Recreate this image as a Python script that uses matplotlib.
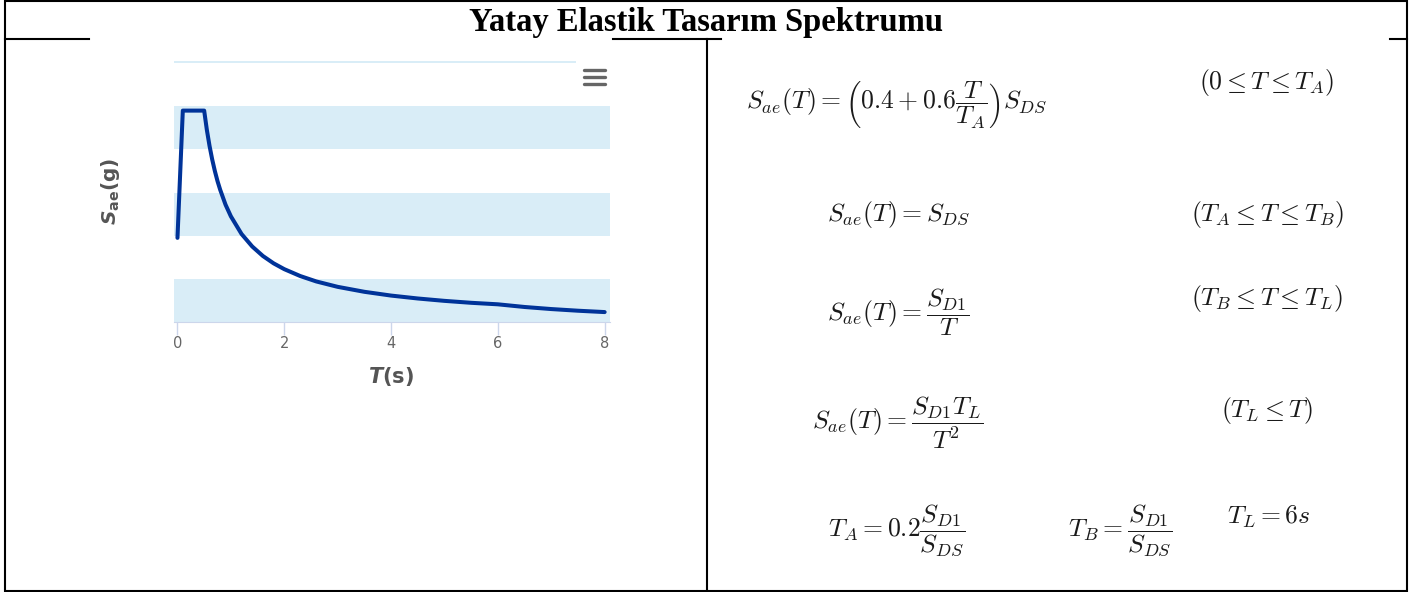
import matplotlib
matplotlib.use('Agg')
import matplotlib.pyplot as plt
from matplotlib.patches import Rectangle
import numpy as np

# spectrum (period in s, Sae in g)
T_vals = [0.0, 0.1, 0.5, 0.55, 0.6, 0.65, 0.7, 0.75, 0.8, 0.9, 1.0, 1.2, 1.4, 1.6, 1.8,
          2.0, 2.3, 2.6, 3.0, 3.5, 4.0, 4.5, 5.0, 5.5, 6.0, 6.5, 7.0, 7.5, 8.0]
Sae_vals = [0.39, 0.98, 0.98, 0.891, 0.817, 0.754, 0.70, 0.653, 0.613, 0.544, 0.49, 0.408,
            0.35, 0.306, 0.272, 0.245, 0.213, 0.188, 0.163, 0.14, 0.1225, 0.109, 0.098,
            0.089, 0.082, 0.0696, 0.060, 0.0523, 0.046]
x_ticks = [0, 2, 4, 6, 8]
y_grid = [0.0, 0.2, 0.4, 0.6, 0.8, 1.0, 1.2, 1.4]

title = 'Yatay Elastik Tasarım Spektrumu'
equations = [
    r'$S_{ae}(T) = \left(0.4 + 0.6\dfrac{T}{T_A}\right) S_{DS}$',
    r'$S_{ae}(T) = S_{DS}$',
    r'$S_{ae}(T) = \dfrac{S_{D1}}{T}$',
    r'$S_{ae}(T) = \dfrac{S_{D1}T_L}{T^2}$',
    r'$T_A = 0.2\dfrac{S_{D1}}{S_{DS}}$',
]
conditions = [
    r'$(0 \leq T \leq T_A)$',
    r'$(T_A \leq T \leq T_B)$',
    r'$(T_B \leq T \leq T_L)$',
    r'$(T_L \leq T)$',
]
extra = [r'$T_B = \dfrac{S_{D1}}{S_{DS}}$', r'$T_L = 6s$']

W, H = 1426, 592
fig = plt.figure(figsize=(W / 100, H / 100), dpi=100)


def fx(px):
    return px / W


def fy(py):
    return 1 - py / H


ax = fig.add_axes([fx(174), fy(322), fx(610) - fx(174), fy(61) - fy(322)])
ax.plot(T_vals, Sae_vals, color='#003399', lw=2.9, solid_joinstyle='round',
        solid_capstyle='round', zorder=3, clip_on=False)
ax.set_xlim(-0.065, 8.1)
ax.set_ylim(0, 1.21)
for i in range(0, len(y_grid) - 1, 2):
    ax.axhspan(y_grid[i], y_grid[i + 1], color='#d9edf7', lw=0, zorder=0)
for s in ['top', 'left', 'right']:
    ax.spines[s].set_visible(False)
ax.spines['bottom'].set_color('#ccd6eb')
ax.set_xticks(x_ticks)
ax.set_yticks([])
ax.tick_params(axis='x', length=9, width=1, color='#ccd6eb', labelcolor='#666666',
               labelsize=10.5, pad=1)

fig.text(fx(391), fy(377), r'$\mathbfit{T}$(s)', ha='center', va='center',
         fontsize=15, fontweight='bold', color='#555555', math_fontfamily='dejavusans')
fig.text(fx(110), fy(191), r'$\mathbfit{S}_{\mathbf{ae}}$(g)', ha='center', va='center',
         rotation=90, fontsize=14.5, fontweight='bold', color='#555555',
         math_fontfamily='dejavusans')

# overlay for the table lines, menu icon and equations
ov = fig.add_axes([0, 0, 1, 1])
ov.set_xlim(0, W)
ov.set_ylim(H, 0)
ov.axis('off')

ov.add_patch(Rectangle((5, 1), 1402, 590, fill=False, lw=1.5, ec='black'))
ov.plot([707, 707], [39, 591], color='black', lw=1.5)
for x0, x1 in [(5, 89), (613, 721), (1390, 1407)]:
    ov.plot([x0, x1], [39, 39], color='black', lw=1.5)

ov.text(706, 23, title, ha='center', va='center', fontsize=23.5, fontweight='bold',
        family='Liberation Serif')

ov.add_patch(Rectangle((576, 57), 36, 38, fc='white', ec='none'))
for yy in [70, 77, 84]:
    ov.plot([584, 605], [yy, yy], color='#666666', lw=2.4, solid_capstyle='round')

fs = 18.5
eq_pos = [(897, 104), (899, 214), (898, 312), (898, 423), (897, 531)]
for s, (x, y) in zip(equations, eq_pos):
    ov.text(x, y, s, ha='center', va='center', fontsize=fs, color='#1a1a1a',
            math_fontfamily='cm')
cond_pos = [(1267, 83), (1267, 214), (1267, 299), (1267, 410)]
for s, (x, y) in zip(conditions, cond_pos):
    ov.text(x, y, s, ha='center', va='center', fontsize=fs, color='#1a1a1a',
            math_fontfamily='cm')
for s, (x, y) in zip(extra, [(1120, 531), (1269, 517)]):
    ov.text(x, y, s, ha='center', va='center', fontsize=fs, color='#1a1a1a',
            math_fontfamily='cm')

fig.savefig('out.png', dpi=100)
